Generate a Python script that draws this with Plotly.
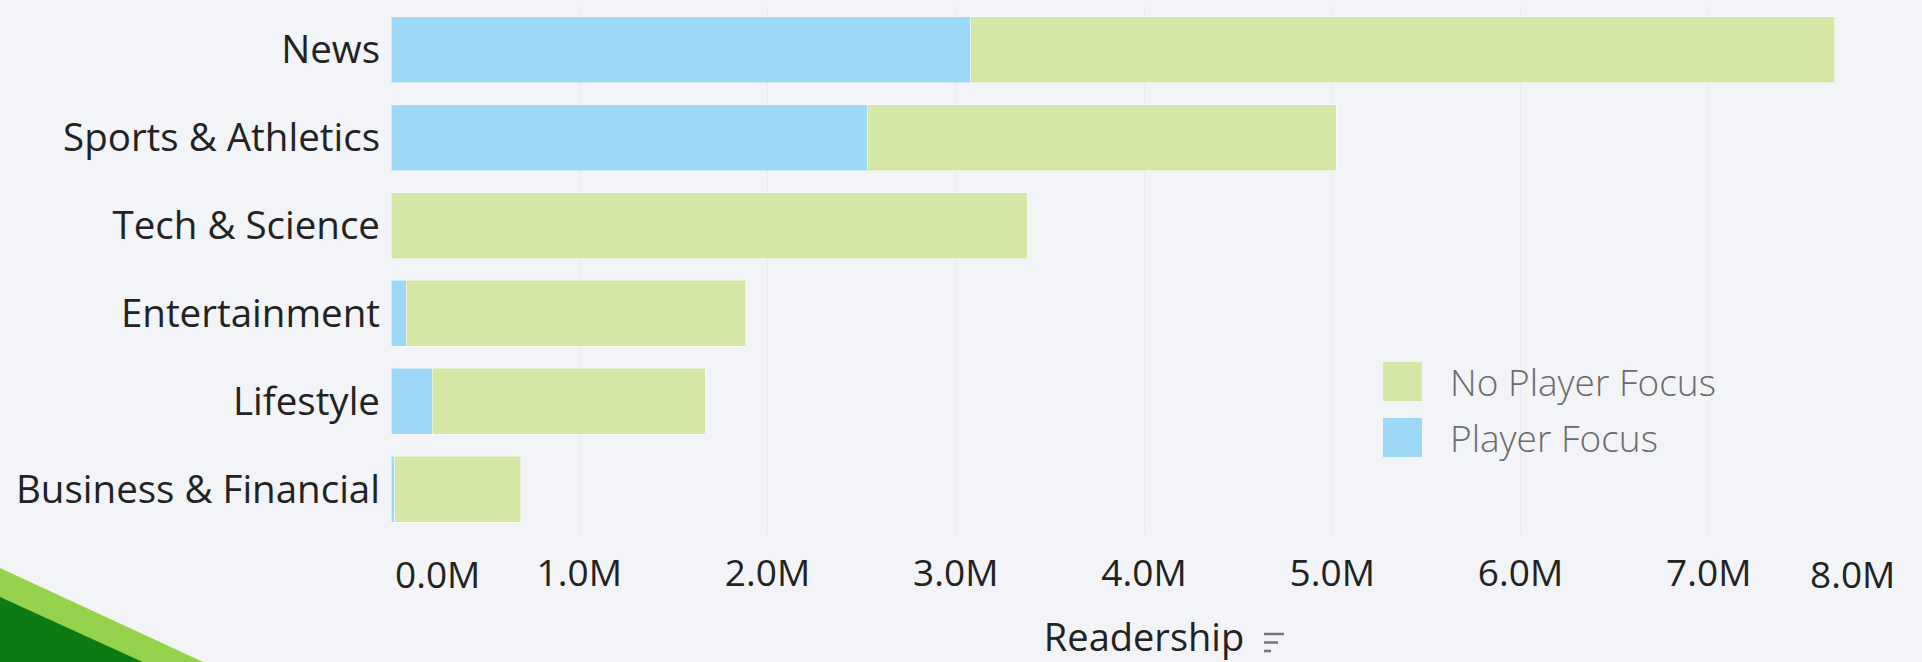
import plotly.graph_objects as go

# ---- data ----
categories = ["News", "Sports & Athletics", "Tech & Science", "Entertainment", "Lifestyle", "Business & Financial"]
player_focus = [3.08e6, 2.53e6, 0.0, 0.08e6, 0.22e6, 0.02e6]
no_player_focus = [4.59e6, 2.49e6, 3.38e6, 1.805e6, 1.45e6, 0.67e6]
tick_values = [0, 1e6, 2e6, 3e6, 4e6, 5e6, 6e6, 7e6, 8e6]
tick_labels = ["0.0M", "1.0M", "2.0M", "3.0M", "4.0M", "5.0M", "6.0M", "7.0M", "8.0M"]
series_names = ["Player Focus", "No Player Focus"]

# ---- style ----
W, H = 1922, 662
ML, MR, MT, MB = 391, 25, 6, 129
PW, PH = W - ML - MR, H - MT - MB
BLUE = "#9DD9F7"
GREEN = "#D4E7A6"
BG = "#F3F4F7"
FONT = "Open Sans"


def px(x):
    return (x - ML) / PW


def py(y):
    return (H - MB - y) / PH


fig = go.Figure()
fig.add_trace(go.Bar(
    y=categories, x=player_focus, name=series_names[0], orientation="h",
    marker=dict(color=BLUE, line=dict(color="rgba(255,255,255,0.45)", width=1)),
    showlegend=False,
))
fig.add_trace(go.Bar(
    y=categories, x=no_player_focus, name=series_names[1], orientation="h",
    marker=dict(color=GREEN, line=dict(color="rgba(255,255,255,0.45)", width=1)),
    showlegend=False,
))

inner_text = ["" if i in (0, len(tick_labels) - 1) else t for i, t in enumerate(tick_labels)]

shapes = []
# decorative corner bands
shapes.append(dict(type="path", xref="paper", yref="paper", layer="below",
                   path=f"M {px(-5)},{py(565.8)} L {px(240)},{py(679)} L {px(-5)},{py(679)} Z",
                   fillcolor="#95D24B", line=dict(width=0)))
shapes.append(dict(type="path", xref="paper", yref="paper", layer="below",
                   path=f"M {px(-5)},{py(594.8)} L {px(180)},{py(679)} L {px(-5)},{py(679)} Z",
                   fillcolor="#0C7A15", line=dict(width=0)))

# custom legend swatches
legend_items = [(series_names[1], GREEN, 362), (series_names[0], BLUE, 418)]
annotations = []
for name, col, top in legend_items:
    shapes.append(dict(type="rect", xref="paper", yref="paper",
                       x0=px(1383), x1=px(1422), y0=py(top + 39), y1=py(top),
                       fillcolor=col, line=dict(width=0)))
    annotations.append(dict(text=name, xref="paper", yref="paper", x=px(1448), y=py(top + 19.5),
                            xanchor="left", yanchor="middle", showarrow=False,
                            font=dict(family=FONT, size=37, color="#6B6B6B", weight=300)))

# edge tick labels aligned inside the axis range
annotations.append(dict(text=tick_labels[0], xref="x", yref="paper", x=tick_values[0], y=py(573),
                        xanchor="left", yanchor="middle", showarrow=False, xshift=2,
                        font=dict(family=FONT, size=37, color="#222222")))
annotations.append(dict(text=tick_labels[-1], xref="x", yref="paper", x=tick_values[-1], y=py(573),
                        xanchor="right", yanchor="middle", showarrow=False,
                        font=dict(family=FONT, size=37, color="#222222")))

# sort icon next to axis title
for i, ln in enumerate([20, 14, 7]):
    yy = 634 + i * 8.5
    shapes.append(dict(type="line", xref="paper", yref="paper",
                       x0=px(1264), x1=px(1264 + ln), y0=py(yy), y1=py(yy),
                       line=dict(color="#777777", width=2.5)))

fig.update_layout(
    width=W, height=H,
    margin=dict(l=ML, r=MR, t=MT, b=MB, pad=0),
    paper_bgcolor=BG, plot_bgcolor=BG,
    barmode="stack", bargap=0.25,
    font=dict(family=FONT, size=37, color="#222222"),
    shapes=shapes, annotations=annotations,
    xaxis=dict(
        range=[0, 8e6], tickvals=tick_values, ticktext=inner_text,
        showgrid=True, gridcolor="#EAEBEE", gridwidth=1, zeroline=False,
        showline=False, ticks="", automargin=False, ticklabelstandoff=15,
        tickfont=dict(family=FONT, size=37, color="#222222"),
        title=dict(text="Readership", font=dict(family=FONT, size=38, color="#222222"), standoff=28),
    ),
    yaxis=dict(
        categoryorder="array", categoryarray=categories, range=[5.5, -0.5],
        showgrid=False, zeroline=False, showline=False, ticks="", automargin=False,
        ticklabelstandoff=10,
        tickfont=dict(family=FONT, size=38.5, color="#222222"),
    ),
)

fig.write_html("out.html",
               config={"displayModeBar": False, "staticPlot": True},
               post_script="document.body.style.margin='0';document.body.style.overflow='hidden';")
